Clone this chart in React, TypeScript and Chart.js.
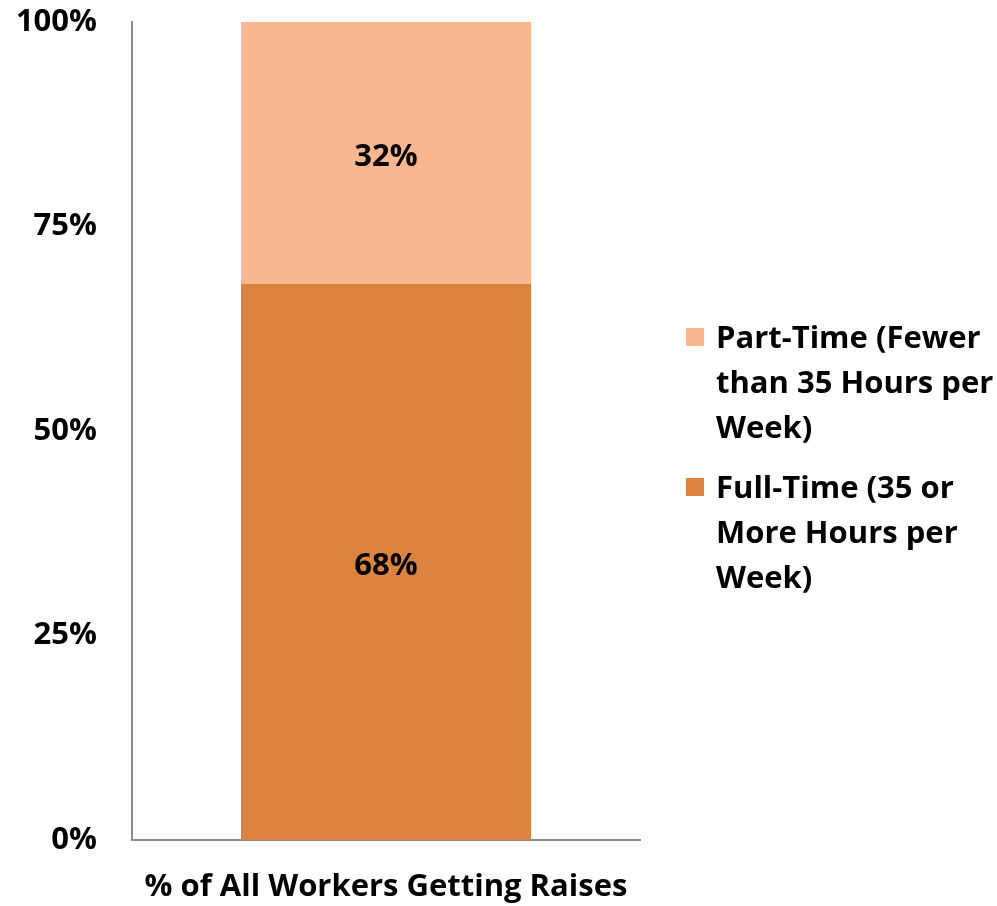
import React, { useEffect, useRef } from "react";
import { Chart, registerables } from "chart.js";
Chart.register(...registerables);

const categories = ["% of All Workers Getting Raises"];
const seriesNames = ["Full-Time (35 or More Hours per Week)", "Part-Time (Fewer than 35 Hours per Week)"];
const fullTime = [68];
const partTime = [32];
const yTickValues = [0, 25, 50, 75, 100];
const seriesColors = ["#DC843F", "#F9B691"];

const FONT = "'Open Sans', Lato, sans-serif";
const FONT_SIZE = 31;
const AXIS_COLOR = "#8C8C8C";

const labelPlugin = {
  id: "segLabels",
  afterDatasetsDraw(chart: any) {
    const ctx = chart.ctx;
    ctx.save();
    ctx.font = `bold ${FONT_SIZE}px ${FONT}`;
    ctx.fillStyle = "#000";
    ctx.textAlign = "center";
    ctx.textBaseline = "middle";
    chart.data.datasets.forEach((ds: any, i: number) => {
      const meta = chart.getDatasetMeta(i);
      meta.data.forEach((bar: any, j: number) => {
        const p = bar.getProps(["x", "y", "base"], true);
        ctx.fillText(ds.data[j] + "%", p.x, (p.y + p.base) / 2 + 4);
      });
    });
    ctx.restore();
  },
};

export default function App() {
  const ref = useRef<HTMLCanvasElement | null>(null);
  useEffect(() => {
    document.body.style.margin = "0";
    const chart = new Chart(ref.current as HTMLCanvasElement, {
      type: "bar",
      data: {
        labels: categories,
        datasets: [
          { label: seriesNames[0], data: fullTime, backgroundColor: seriesColors[0], barPercentage: 0.571, categoryPercentage: 1 },
          { label: seriesNames[1], data: partTime, backgroundColor: seriesColors[1], barPercentage: 0.571, categoryPercentage: 1 },
        ],
      },
      options: {
        animation: false,
        responsive: true,
        maintainAspectRatio: false,
        layout: { padding: { top: 22, right: 357, left: 0, bottom: 0 } },
        plugins: { legend: { display: false }, tooltip: { enabled: false } },
        scales: {
          x: {
            stacked: true,
            grid: { display: false, drawTicks: false },
            border: { color: AXIS_COLOR, width: 2 },
            ticks: { color: "#000", font: { family: FONT, size: FONT_SIZE, weight: "bold" }, padding: 29 },
            afterFit: (s: any) => { s.height = 66; s.paddingLeft = 0; s.paddingRight = 0; },
          },
          y: {
            stacked: true,
            min: 0,
            max: 100,
            afterBuildTicks: (s: any) => { s.ticks = yTickValues.map((v) => ({ value: v })); },
            grid: { display: false, drawTicks: false },
            border: { color: AXIS_COLOR, width: 2 },
            ticks: { color: "#000", font: { family: FONT, size: FONT_SIZE, weight: "bold" }, padding: 35, callback: (v: any) => v + "%" },
            afterFit: (s: any) => { s.width = 132; s.paddingTop = 0; s.paddingBottom = 0; },
          },
        },
      },
      plugins: [labelPlugin],
    } as any);
    return () => chart.destroy();
  }, []);

  const legendItems = [1, 0].map((i) => ({ name: seriesNames[i], color: seriesColors[i] }));

  return (
    <div style={{ position: "relative", width: 997, height: 906 }}>
      <canvas ref={ref} />
      <div style={{ position: "absolute", left: 686, top: 314, display: "flex", flexDirection: "column", gap: 15, fontFamily: FONT, fontWeight: 700, fontSize: FONT_SIZE, lineHeight: "45px", color: "#000" }}>
        {legendItems.map((it) => (
          <div key={it.name} style={{ display: "flex", alignItems: "flex-start" }}>
            <div style={{ width: 18, height: 18, background: it.color, marginTop: 14, marginRight: 12, flex: "none" }} />
            <div style={{ width: 285 }}>{it.name}</div>
          </div>
        ))}
      </div>
    </div>
  );
}
